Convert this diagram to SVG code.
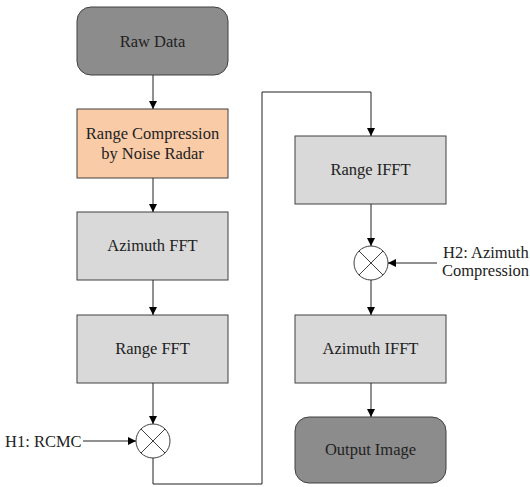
<svg xmlns="http://www.w3.org/2000/svg" width="530" height="487" viewBox="0 0 530 487">
<defs>
<marker id="arr" viewBox="0 0 10 10" refX="10" refY="5" markerWidth="8" markerHeight="8" markerUnits="userSpaceOnUse" orient="auto">
<path d="M0,0 L10,5 L0,10 z" fill="#000"/>
</marker>
</defs>
<style>
text{font-family:"Liberation Serif","Times New Roman",serif;font-size:16.5px;fill:#222}
.c{text-anchor:middle}
.dark{fill:#8c8c8c;stroke:#404040;stroke-width:1}
.light{fill:#d9d9d9;stroke:#404040;stroke-width:1}
.peach{fill:#f9cba7;stroke:#404040;stroke-width:1}
.mul{fill:#fff;stroke:#404040;stroke-width:1}
.x{stroke:#404040;stroke-width:1}
.ln{fill:none;stroke:#222;stroke-width:1}
</style>
<rect width="530" height="487" fill="#fff"/>
<g id="raw">
<rect class="dark" x="77" y="7" width="151" height="68" rx="14"/>
<text class="c" x="152.5" y="46.5">Raw Data</text>
</g>
<g id="rangecomp">
<rect class="peach" x="77" y="109" width="151" height="69"/>
<text class="c" x="152.5" y="139">Range Compression</text>
<text class="c" x="152.5" y="159">by Noise Radar</text>
</g>
<g id="azfft">
<rect class="light" x="77" y="212" width="151" height="68"/>
<text class="c" x="152.5" y="251">Azimuth FFT</text>
</g>
<g id="rangefft">
<rect class="light" x="77" y="315" width="151" height="68"/>
<text class="c" x="152.5" y="354">Range FFT</text>
</g>
<g id="mul1">
<circle class="mul" cx="153" cy="441" r="17"/>
<line class="x" x1="141" y1="429" x2="165" y2="453"/>
<line class="x" x1="165" y1="429" x2="141" y2="453"/>
</g>
<g id="h1">
<text x="5" y="446.5">H1: RCMC</text>
</g>
<g id="rangeifft">
<rect class="light" x="295" y="136" width="151" height="68"/>
<text class="c" x="370.5" y="175">Range IFFT</text>
</g>
<g id="mul2">
<circle class="mul" cx="371" cy="263" r="17"/>
<line class="x" x1="359" y1="251" x2="383" y2="275"/>
<line class="x" x1="383" y1="251" x2="359" y2="275"/>
</g>
<g id="h2">
<text x="443" y="258">H2: Azimuth</text>
<text x="442" y="276">Compression</text>
</g>
<g id="azifft">
<rect class="light" x="295" y="315" width="151" height="68"/>
<text class="c" x="370.5" y="354">Azimuth IFFT</text>
</g>
<g id="output">
<rect class="dark" x="295" y="417" width="151" height="66" rx="14"/>
<text class="c" x="370.5" y="455">Output Image</text>
</g>
<g id="connectors">
<line class="ln" x1="153" y1="75" x2="153" y2="109" marker-end="url(#arr)"/>
<line class="ln" x1="153" y1="178" x2="153" y2="212" marker-end="url(#arr)"/>
<line class="ln" x1="153" y1="280" x2="153" y2="315" marker-end="url(#arr)"/>
<line class="ln" x1="153" y1="383" x2="153" y2="424" marker-end="url(#arr)"/>
<line class="ln" x1="83" y1="441" x2="136" y2="441" marker-end="url(#arr)"/>
<path class="ln" d="M153,458 V484 H262 V92 H371 V136" marker-end="url(#arr)"/>
<line class="ln" x1="371" y1="204" x2="371" y2="246" marker-end="url(#arr)"/>
<line class="ln" x1="437" y1="263" x2="388" y2="263" marker-end="url(#arr)"/>
<line class="ln" x1="371" y1="280" x2="371" y2="315" marker-end="url(#arr)"/>
<line class="ln" x1="371" y1="383" x2="371" y2="417" marker-end="url(#arr)"/>
</g>
</svg>
